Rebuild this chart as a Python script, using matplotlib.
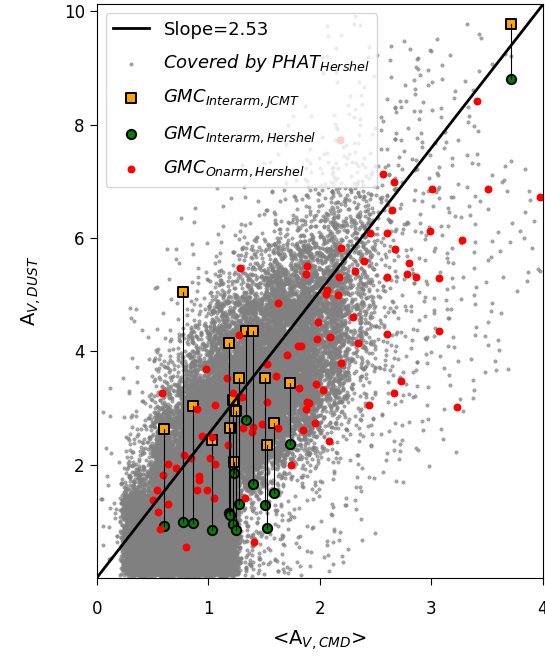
import matplotlib
matplotlib.use("Agg")
import matplotlib.pyplot as plt
import numpy as np

# interarm GMCs: x position, A_V from JCMT and from Herschel
inter_x = [0.601, 0.771, 0.867, 1.034, 1.189, 1.195, 1.218, 1.228, 1.252,
           1.279, 1.337, 1.397, 1.506, 1.527, 1.587, 1.730, 3.713]
inter_jcmt = [2.63, 5.05, 3.03, 2.44, 4.15, 2.64, 3.14, 2.04, 2.94,
              3.53, 4.35, 4.35, 3.53, 2.34, 2.73, 3.44, 9.77]
inter_hershel = [0.91, 0.99, 0.97, 0.84, 1.14, 1.12, 0.96, 1.86, 0.85,
                 1.31, 2.79, 1.66, 1.28, 0.88, 1.50, 2.37, 8.80]

# on-arm GMCs
onarm_x = [3.406, 2.665, 3.003, 3.510, 3.970, 2.565, 2.181, 2.644, 2.988, 3.277,
           2.450, 2.605, 2.193, 2.674, 2.399, 2.802, 1.883, 1.876, 1.285, 2.318,
           2.172, 2.605, 2.784, 2.862, 3.065, 2.062, 2.056, 2.160, 1.628, 2.300,
           1.984, 1.978, 2.091, 2.605, 3.065, 2.339, 1.807, 1.830, 1.709, 2.193,
           1.276, 1.524, 1.605, 1.166, 0.980, 1.814, 1.966, 2.031, 2.725, 2.665,
           1.524, 1.883, 1.906, 1.874, 2.438, 3.227, 1.957, 1.852, 2.080, 1.300,
           1.058, 1.479, 1.390, 1.404, 1.309, 1.034, 1.628, 1.739, 1.333, 1.410,
           0.586, 0.900, 1.225, 0.947, 1.178, 0.780, 0.846, 1.019, 1.058, 0.643,
           0.709, 0.595, 0.918, 0.918, 0.541, 0.900, 0.989, 0.505, 1.049, 0.637,
           0.553, 0.571, 0.800]
onarm_y = [8.42, 6.99, 6.87, 6.86, 6.72, 7.13, 7.72, 6.49, 6.12, 5.96,
           6.09, 6.09, 5.82, 5.80, 5.60, 5.55, 5.51, 5.36, 5.47, 5.42,
           5.32, 5.32, 5.37, 5.32, 5.30, 5.08, 5.02, 5.00, 4.86, 4.60,
           4.52, 4.22, 4.25, 4.31, 4.36, 4.15, 4.10, 4.10, 3.94, 3.80,
           4.28, 3.78, 3.56, 3.53, 3.69, 3.35, 3.43, 3.31, 3.47, 3.27,
           3.10, 3.10, 3.09, 2.99, 3.05, 3.02, 2.73, 2.61, 2.41, 3.19,
           3.05, 2.71, 2.58, 2.67, 2.64, 2.49, 2.64, 1.99, 1.41, 0.64,
           3.27, 2.98, 3.27, 2.51, 2.34, 2.17, 2.11, 2.11, 2.01, 2.01,
           1.95, 1.81, 1.80, 1.73, 1.55, 1.55, 1.55, 1.37, 1.41, 1.30,
           1.17, 0.87, 0.55]

slope = 2.53

# PHAT pixel density on a 0.25 x 0.5 grid (level 0-9), rows from y=10 down to y=0
cell_w, cell_h = 0.25, 0.5
phat_levels = [
    [0, 0, 0, 0, 0, 0, 0, 0, 1, 1, 0, 0, 0, 1, 0, 0],
    [0, 0, 0, 0, 0, 0, 0, 0, 1, 1, 1, 2, 1, 0, 1, 0],
    [0, 0, 0, 0, 0, 0, 0, 0, 1, 1, 1, 2, 1, 1, 0, 0],
    [0, 0, 0, 0, 0, 0, 0, 1, 1, 2, 2, 2, 1, 1, 0, 0],
    [0, 0, 0, 0, 0, 0, 1, 1, 2, 2, 2, 2, 1, 1, 0, 0],
    [0, 0, 0, 0, 0, 1, 1, 2, 3, 3, 2, 2, 2, 1, 1, 1],
    [0, 0, 0, 0, 1, 1, 2, 3, 4, 4, 3, 2, 2, 1, 1, 1],
    [0, 0, 0, 1, 1, 2, 3, 4, 5, 5, 3, 2, 2, 1, 1, 1],
    [0, 0, 1, 1, 2, 4, 5, 6, 6, 5, 3, 2, 2, 1, 1, 1],
    [0, 0, 1, 2, 4, 5, 7, 7, 7, 5, 3, 2, 2, 1, 1, 1],
    [0, 1, 1, 3, 6, 7, 8, 8, 7, 5, 3, 2, 2, 1, 1, 0],
    [0, 1, 2, 5, 7, 8, 8, 8, 7, 5, 3, 2, 2, 1, 1, 0],
    [0, 1, 4, 6, 8, 9, 9, 8, 7, 4, 3, 2, 1, 1, 1, 0],
    [1, 2, 5, 8, 9, 9, 9, 8, 6, 3, 2, 2, 1, 1, 0, 0],
    [1, 3, 7, 9, 9, 9, 8, 7, 4, 3, 2, 1, 1, 0, 0, 0],
    [1, 4, 8, 9, 9, 9, 7, 5, 3, 2, 2, 1, 1, 0, 0, 0],
    [1, 6, 9, 9, 9, 7, 4, 3, 2, 2, 1, 0, 0, 0, 0, 0],
    [2, 9, 9, 9, 9, 4, 3, 2, 2, 1, 0, 0, 0, 0, 0, 0],
    [2, 9, 9, 9, 9, 4, 3, 2, 2, 1, 0, 0, 0, 0, 0, 0],
    [1, 9, 9, 9, 9, 4, 3, 2, 2, 0, 0, 0, 0, 0, 0, 0],
]
level_counts = [0, 3, 7, 16, 35, 65, 120, 220, 420, 800]
spread = 0.7  # half-width of the triangular kernel, in cells


def halton(idx, base):
    f = np.ones(len(idx))
    r = np.zeros(len(idx))
    i = idx.copy()
    while (i > 0).any():
        f /= base
        r += f * (i % base)
        i //= base
    return r


def phat_points():
    xs, ys = [], []
    start = 1
    nrow = len(phat_levels)
    for r, row in enumerate(phat_levels):
        yc = (nrow - 1 - r + 0.5) * cell_h
        for c, lev in enumerate(row):
            n = level_counts[lev]
            if n == 0:
                continue
            idx = np.arange(start, start + n)
            start += n
            xc = (c + 0.5) * cell_w
            # 4-d Halton point, two coordinates per axis -> triangular spread
            dx = halton(idx, 2) + halton(idx, 5) - 1
            dy = halton(idx, 3) + halton(idx, 7) - 1
            xs.append(xc + dx * spread * cell_w)
            ys.append(yc + dy * spread * cell_h)
    x = np.concatenate(xs)
    y = np.concatenate(ys)
    keep = (x > 0.02) & (y > 0.03) & (x < 4) & (y < 10.1)
    return x[keep], y[keep]


px, py = phat_points()

fig = plt.figure(figsize=(5.45, 6.57), dpi=100)
ax = fig.add_axes([0.1773, 0.1202, 0.819, 0.873])

xx = np.array([0, 4])
ax.plot(xx, slope * xx, color='black', lw=2, label='Slope=2.53')
ax.scatter(px, py, s=6, c='gray', alpha=0.7, linewidths=0.4,
           label=r'$Covered\ by\ PHAT_{Hershel}$')
ax.scatter(inter_x, inter_jcmt, marker='s', s=45, c='orange', edgecolors='black',
           linewidths=1.4, label=r'$GMC_{Interarm,JCMT}$')
ax.scatter(inter_x, inter_hershel, marker='o', s=45, c='green', edgecolors='black',
           linewidths=1.4, label=r'$GMC_{Interarm,Hershel}$')
for x, y1, y2 in zip(inter_x, inter_jcmt, inter_hershel):
    ax.plot([x, x], [y1, y2], color='black', lw=0.8)
ax.scatter(onarm_x, onarm_y, s=22, c='red', label=r'$GMC_{Onarm,Hershel}$')

ax.set_xlim(0, 4)
ax.set_ylim(0, slope * 4)
ax.set_xticks([0, 1, 2, 3, 4])
ax.set_yticks([2, 4, 6, 8, 10])
ax.tick_params(labelsize=12, length=5)
ax.tick_params(axis='x', pad=11)
ax.set_xlabel(r'<A$_{V,CMD}$>', fontsize=14, labelpad=7)
ax.set_ylabel(r'A$_{V,DUST}$', fontsize=14, labelpad=15)
ax.legend(loc='upper left', fontsize=13, labelspacing=0.75)

fig.savefig('out.png', dpi=100)
